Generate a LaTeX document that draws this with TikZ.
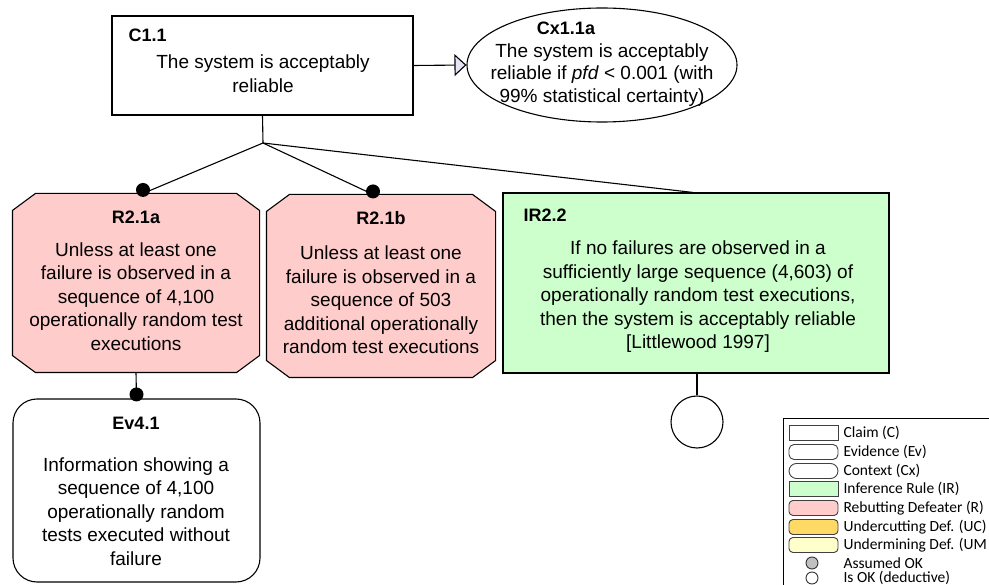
\documentclass[tikz,border=0pt]{standalone}
\usepackage{fontspec}
\setmainfont{Liberation Sans}
\newfontfamily\legfont{Carlito}
\usetikzlibrary{arrows.meta,shapes.geometric}
\definecolor{rpink}{HTML}{FFCCCC}
\definecolor{irgreen}{HTML}{CCFFCC}
\definecolor{ucgold}{HTML}{FFD966}
\definecolor{umyellow}{HTML}{FFFFCC}
\definecolor{arrfill}{HTML}{E4E4F4}
\definecolor{okgray}{HTML}{C0C0C0}
\newcommand{\octopath}[4]{%
  \draw[fill=rpink] ([xshift=#2]#1.north west) -- ([xshift=-#2]#1.north east)
    -- ([yshift=-#3]#1.north east) -- ([yshift=#3]#1.south east)
    -- ([xshift=-#2]#1.south east) -- ([xshift=#2]#1.south west)
    -- ([yshift=#3]#1.south west) -- ([yshift=-#3]#1.north west) -- cycle;}
\begin{document}
\begin{tikzpicture}[x=1pt,y=-1pt,line width=1.1pt,
  body/.style={font=\fontsize{19}{23.5}\selectfont, align=center, inner sep=0pt},
  lbl/.style={font=\fontsize{18}{20}\selectfont\bfseries, inner sep=0pt},
  frame/.style={inner sep=0pt, minimum width=#1},
  dotmark/.style={fill=black},
  legsh/.style={draw=black!75, line width=0.9pt, minimum width=49pt, minimum height=15pt, inner sep=0pt},
  legtxt/.style={font=\legfont\fontsize{15.5}{17}\selectfont, anchor=west, inner sep=0pt},
  legdot/.style={draw=black!80, line width=0.9pt, circle, minimum size=12pt, inner sep=0pt}
]
\useasboundingbox (0,0) rectangle (989,585);
\clip (0,0) rectangle (989,585);

% Claim C1.1
\node[draw, frame=301pt, minimum height=99pt] (c1) at (262.5,65.5) {};
\node[lbl, anchor=west] (c1l) at (128,35) {C1.1};
\node[body] (c1b) at (263,73.5) {The system is acceptably\\reliable};

% Context Cx1.1a
\node[draw, ellipse, frame=270pt, minimum height=114pt] (cx) at (602,65) {};
\node[lbl] (cxl) at (566,28) {Cx1.1a};
\node[body, font=\fontsize{19}{22.5}\selectfont] (cxb) at (602,75) {The system is acceptably\\reliable if \textit{pfd} < 0.001 (with\\99\% statistical certainty)};
\draw[-{Triangle[length=12pt,width=22pt,fill=arrfill]}] (c1.east) -- (cx.west);

% junction
\coordinate (j) at (263,143);
\draw (c1.south) -- (j);

% R2.1a
\node[frame=246pt, minimum height=178pt] (r1) at (136,283) {};
\octopath{r1}{23pt}{17pt}{}
\node[lbl] (r1l) at (136,217) {R2.1a};
\node[body] (r1b) at (136,296.5) {Unless at least one\\failure is observed in a\\sequence of 4,100\\operationally random test\\executions};

% R2.1b
\node[frame=228pt, minimum height=182pt] (r2) at (381,286) {};
\octopath{r2}{23pt}{17pt}{}
\node[lbl] (r2l) at (381,218) {R2.1b};
\node[body] (r2b) at (381,300) {Unless at least one\\failure is observed in a\\sequence of 503\\additional operationally\\random test executions};

% IR2.2
\node[draw, fill=irgreen, frame=386pt, minimum height=180pt] (ir) at (696,283) {};
\node[lbl, anchor=west] (irl) at (523,215) {IR2.2};
\node[body] (irb) at (698,297) {If no failures are observed in a\\sufficiently large sequence (4,603) of\\operationally random test executions,\\then the system is acceptably reliable\\{[}Littlewood 1997{]}};

% Ev4.1
\node[draw, rounded corners=24pt, frame=247pt, minimum height=183pt] (ev) at (136.5,490.5) {};
\node[lbl] (evl) at (136,423) {Ev4.1};
\node[body] (evb) at (136,511.5) {Information showing a\\sequence of 4,100\\operationally random\\tests executed without\\failure};

% OK circle
\node[draw, circle, minimum size=52pt, inner sep=0pt] (ok) at (697,422) {};

% connectors
\draw (j) -- ([xshift=7pt]r1.north);
\fill[dotmark] ([xshift=7pt,yshift=3.5pt]r1.north) circle (7pt);
\draw (j) -- ([xshift=-8pt]r2.north);
\fill[dotmark] ([xshift=-8pt,yshift=3pt]r2.north) circle (7pt);
\draw (j) -- ([xshift=-3pt]ir.north);
\draw (r1.south) -- (ev.north);
\fill[dotmark] ([yshift=4pt]ev.north) circle (7pt);
\draw (ok.north |- ir.south) -- (ok.north);

% legend
\draw[line width=0.9pt] (783,418) rectangle (1010,600);
\node[legsh] (lg1) at (813.5,433) {};
\node[legtxt] (lt1) at (843,433) {Claim (C)};
\node[legsh, rounded corners=5pt] (lg2) at (813.5,452) {};
\node[legtxt] (lt2) at (843,452) {Evidence (Ev)};
\node[legsh, rounded corners=7.5pt] (lg3) at (813.5,471) {};
\node[legtxt] (lt3) at (843,471) {Context (Cx)};
\node[legsh, fill=irgreen] (lg4) at (813.5,489) {};
\node[legtxt] (lt4) at (843,489) {Inference Rule (IR)};
\node[legsh, fill=rpink, rounded corners=4pt] (lg5) at (813.5,508) {};
\node[legtxt] (lt5) at (843,508) {Rebutting Defeater (R)};
\node[legsh, fill=ucgold, rounded corners=4pt] (lg6) at (813.5,527) {};
\node[legtxt] (lt6) at (843,527) {Undercutting Def. (UC)};
\node[legsh, fill=umyellow, rounded corners=4pt] (lg7) at (813.5,545) {};
\node[legtxt] (lt7) at (843,545) {Undermining Def. (UM};
\node[legdot, fill=okgray] (lg8) at (812,563) {};
\node[legtxt] (lt8) at (843,563) {Assumed OK};
\node[legdot, fill=white] (lg9) at (812,578) {};
\node[legtxt] (lt9) at (843,578) {Is OK (deductive)};
\end{tikzpicture}
\end{document}
